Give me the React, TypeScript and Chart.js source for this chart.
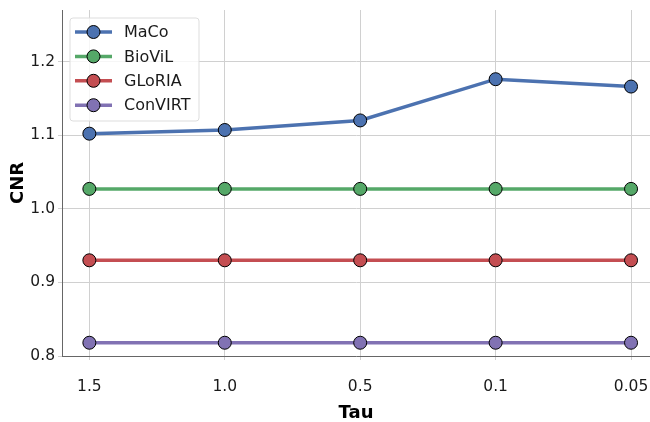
import React, { useEffect, useRef } from "react";
import { Chart, registerables } from "chart.js";

Chart.register(...registerables);

const tauLabels = ["1.5", "1.0", "0.5", "0.1", "0.05"];
const yTicks = [0.8, 0.9, 1.0, 1.1, 1.2];
const seriesNames = ["MaCo", "BioViL", "GLoRIA", "ConVIRT"];
const macoValues = [1.102, 1.107, 1.12, 1.176, 1.166];
const biovilValues = [1.027, 1.027, 1.027, 1.027, 1.027];
const gloriaValues = [0.93, 0.93, 0.93, 0.93, 0.93];
const convirtValues = [0.818, 0.818, 0.818, 0.818, 0.818];
const seriesColors = ["#4c72b0", "#55a868", "#c44e52", "#8172b3"];

const FONT = "'DejaVu Sans', sans-serif";

const legendPlugin = {
  id: "customLegend",
  afterDraw(chart: any) {
    const ctx = chart.ctx;
    const x0 = 70, y0 = 18, w = 129, h = 103;
    ctx.save();
    ctx.beginPath();
    const r = 3;
    ctx.moveTo(x0 + r, y0);
    ctx.lineTo(x0 + w - r, y0);
    ctx.quadraticCurveTo(x0 + w, y0, x0 + w, y0 + r);
    ctx.lineTo(x0 + w, y0 + h - r);
    ctx.quadraticCurveTo(x0 + w, y0 + h, x0 + w - r, y0 + h);
    ctx.lineTo(x0 + r, y0 + h);
    ctx.quadraticCurveTo(x0, y0 + h, x0, y0 + h - r);
    ctx.lineTo(x0, y0 + r);
    ctx.quadraticCurveTo(x0, y0, x0 + r, y0);
    ctx.closePath();
    ctx.fillStyle = "rgba(255,255,255,0.8)";
    ctx.fill();
    ctx.strokeStyle = "#dddddd";
    ctx.lineWidth = 1;
    ctx.stroke();
    chart.data.datasets.forEach((ds: any, i: number) => {
      const cy = 32 + i * 24.4;
      ctx.beginPath();
      ctx.moveTo(75, cy);
      ctx.lineTo(112, cy);
      ctx.strokeStyle = ds.borderColor;
      ctx.lineWidth = 3.5;
      ctx.stroke();
      ctx.beginPath();
      ctx.arc(93.5, cy, 6.5, 0, Math.PI * 2);
      ctx.fillStyle = ds.pointBackgroundColor;
      ctx.fill();
      ctx.strokeStyle = "#000";
      ctx.lineWidth = 1;
      ctx.stroke();
      ctx.fillStyle = "#1a1a1a";
      ctx.font = `16px ${FONT}`;
      ctx.textBaseline = "middle";
      ctx.textAlign = "left";
      ctx.fillText(ds.label, 124, cy + 1);
    });
    ctx.restore();
  },
};

export default function App() {
  const ref = useRef<HTMLCanvasElement | null>(null);
  useEffect(() => {
    if (!ref.current) return;
    const all = [macoValues, biovilValues, gloriaValues, convirtValues];
    const chart = new Chart(ref.current, {
      type: "line",
      data: {
        datasets: all.map((vals, i) => ({
          label: seriesNames[i],
          data: vals.map((v, j) => ({ x: j, y: v })),
          borderColor: seriesColors[i],
          backgroundColor: seriesColors[i],
          pointBackgroundColor: seriesColors[i],
          pointBorderColor: "#000",
          pointBorderWidth: 1,
          pointRadius: 6.5,
          borderWidth: 3.5,
          tension: 0,
          fill: false,
          clip: false,
        })),
      },
      options: {
        responsive: false,
        animation: false,
        layout: { autoPadding: false, padding: { top: 10, right: 0, left: 0, bottom: 0 } },
        plugins: {
          legend: { display: false },
          tooltip: { enabled: false },
        },
        scales: {
          x: {
            type: "linear",
            min: -0.202,
            max: 4.14,
            afterBuildTicks: (s: any) => {
              s.ticks = tauLabels.map((_, i) => ({ value: i }));
            },
            afterFit: (s: any) => {
              s.height = 66;
              s.paddingRight = 0;
              s.paddingLeft = 0;
            },
            ticks: {
              callback: (v: any) => tauLabels[v] ?? "",
              font: { family: FONT, size: 15.5 },
              color: "#1a1a1a",
              padding: 18,
              maxRotation: 0,
              autoSkip: false,
            },
            grid: { color: "#d0d0d0", lineWidth: 1, tickLength: 4, drawTicks: true },
            border: { color: "#666", width: 1 },
            title: {
              display: true,
              text: "Tau",
              font: { family: FONT, size: 18, weight: "bold" },
              color: "#000",
              padding: { top: 0, bottom: -2 },
            },
          },
          y: {
            min: 0.8,
            max: 1.27,
            afterBuildTicks: (s: any) => {
              s.ticks = yTicks.map((v) => ({ value: v }));
            },
            afterFit: (s: any) => {
              s.width = 62;
              s.paddingTop = 0;
              s.paddingBottom = 0;
            },
            ticks: {
              callback: (v: any) => Number(v).toFixed(1),
              font: { family: FONT, size: 15.5 },
              color: "#1a1a1a",
              padding: 3,
            },
            grid: { color: "#d0d0d0", lineWidth: 1, tickLength: 4, drawTicks: true },
            border: { color: "#666", width: 1 },
            title: {
              display: true,
              text: "CNR",
              font: { family: FONT, size: 18, weight: "bold" },
              color: "#000",
              padding: { top: 8, bottom: 0 },
            },
          },
        },
      },
      plugins: [legendPlugin],
    } as any);
    return () => chart.destroy();
  }, []);
  return (
    <div style={{ position: "absolute", left: 0, top: 0, width: 650, height: 422, background: "#fff" }}>
      <canvas ref={ref} width={650} height={422} />
    </div>
  );
}
